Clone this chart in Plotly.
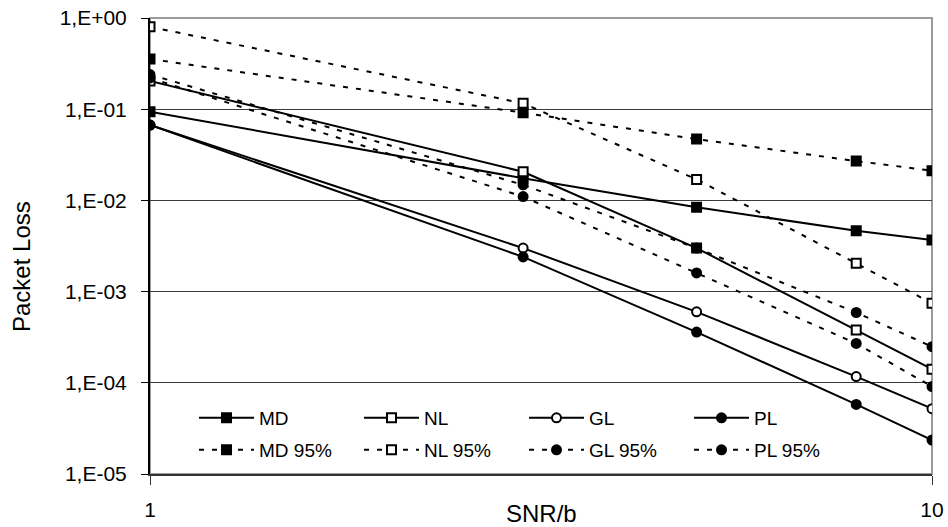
import plotly.graph_objects as go

# SNR/b sample points
snr = [1, 3, 5, 8, 10]

# Mean packet loss per scheme
md = [0.094, 0.0175, 0.0084, 0.00466, 0.00368]
nl = [0.204, 0.0206, 0.0030, 0.00038, 0.000141]
gl = [0.067, 0.0030, 0.0006, 0.000117, 0.000052]
pl = [0.067, 0.0024, 0.00036, 0.000058, 0.0000236]

# 95% packet loss per scheme
md95 = [0.355, 0.0916, 0.047, 0.027, 0.0212]
nl95 = [0.80, 0.116, 0.017, 0.00204, 0.000744]
gl95 = [0.24, 0.0148, 0.0030, 0.00059, 0.000249]
pl95 = [0.22, 0.0110, 0.0016, 0.00027, 0.000091]

y_tickvals = [1, 1e-1, 1e-2, 1e-3, 1e-4, 1e-5]
y_ticktext = ["1,E+00", "1,E-01", "1,E-02", "1,E-03", "1,E-04", "1,E-05"]
x_tickvals = [1, 10]
x_ticktext = ["1", "10"]

FONT = "Liberation Sans, Arial, sans-serif"
DOTTED = "5px,8px"

series = [
    ("MD", md, "square", "black", "solid", "legend"),
    ("NL", nl, "square", "white", "solid", "legend"),
    ("GL", gl, "circle", "white", "solid", "legend"),
    ("PL", pl, "circle", "black", "solid", "legend"),
    ("MD 95%", md95, "square", "black", DOTTED, "legend2"),
    ("NL 95%", nl95, "square", "white", DOTTED, "legend2"),
    ("GL 95%", gl95, "circle", "black", DOTTED, "legend2"),
    ("PL 95%", pl95, "circle", "black", DOTTED, "legend2"),
]

fig = go.Figure()
for name, vals, sym, fill, dash, leg in series:
    fig.add_trace(go.Scatter(
        x=snr, y=vals, name=name, mode="lines+markers",
        line=dict(color="black", width=2, dash=dash),
        marker=dict(symbol=sym, size=9, color=fill,
                    line=dict(color="black", width=2)),
        legend=leg,
    ))

# Plot-area frame (grey top and right edges)
fig.add_shape(type="rect", xref="paper", yref="paper", x0=0, y0=0, x1=1, y1=1,
              line=dict(color="#9a9a9a", width=2), layer="below")

legend_common = dict(
    orientation="h", xanchor="left", yanchor="middle",
    bgcolor="rgba(0,0,0,0)", borderwidth=0,
    font=dict(family=FONT, size=19, color="black"),
    entrywidth=95, entrywidthmode="pixels", itemwidth=55,
)

fig.update_layout(
    width=948, height=527,
    margin=dict(l=150, r=16, t=18, b=53, autoexpand=False),
    paper_bgcolor="white", plot_bgcolor="white",
    font=dict(family=FONT, color="black"),
    legend=dict(x=44 / 782, y=(474 - 418) / 456, **legend_common),
    legend2=dict(x=44 / 782, y=(474 - 450) / 456, **legend_common),
    xaxis=dict(
        type="log", range=[0, 1], automargin=False,
        tickvals=x_tickvals, ticktext=x_ticktext,
        showgrid=False, zeroline=False,
        showline=True, linecolor="#333333", linewidth=2,
        ticks="outside", ticklen=9, tickwidth=1, tickcolor="#333333",
        tickfont=dict(family=FONT, size=21, color="black"),
        ticklabelstandoff=7,
    ),
    yaxis=dict(
        type="log", range=[-5, 0], automargin=False,
        tickvals=y_tickvals, ticktext=y_ticktext,
        showgrid=True, gridcolor="#3a3a3a", gridwidth=1,
        zeroline=False,
        showline=True, linecolor="black", linewidth=2,
        ticks="outside", ticklen=7, tickwidth=1, tickcolor="black",
        tickfont=dict(family=FONT, size=21, color="black"),
        ticklabelstandoff=10,
    ),
    annotations=[
        dict(text="SNR/b", xref="paper", yref="paper", x=0.5, y=-39 / 456,
             xanchor="center", yanchor="middle", showarrow=False,
             font=dict(family=FONT, size=24, color="black")),
        dict(text="Packet Loss", xref="paper", yref="paper", x=-129 / 782,
             y=(474 - 267) / 456, xanchor="center", yanchor="middle",
             textangle=-90, showarrow=False,
             font=dict(family=FONT, size=24, color="black")),
    ],
)

fig.write_html("out.html")
